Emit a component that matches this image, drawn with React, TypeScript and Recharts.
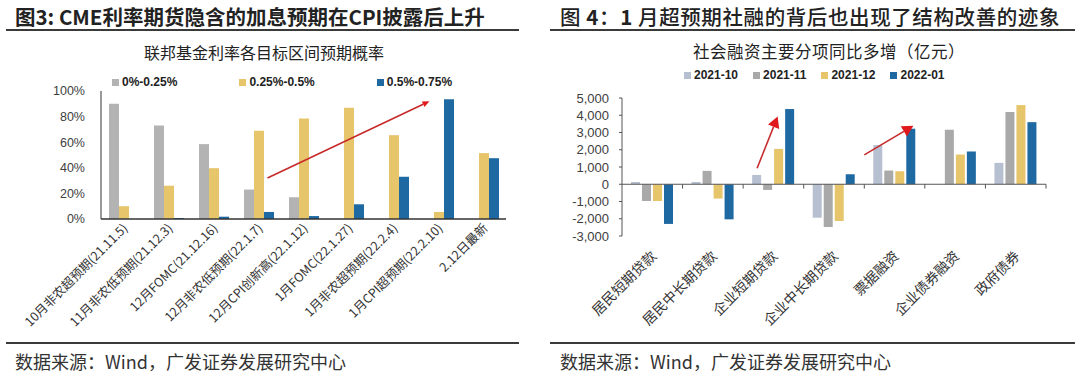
import React from "react";
import {
  BarChart,
  Bar,
  XAxis,
  YAxis,
  ReferenceLine,
} from "recharts";

// 图3 联邦基金利率各目标区间预期概率 (%)
const fedEvents = [
  "10月非农超预期(21.11.5)",
  "11月非农低预期(21.12.3)",
  "12月FOMC(21.12.16)",
  "12月非农低预期(22.1.7)",
  "12月CPI创新高(22.1.12)",
  "1月FOMC(22.1.27)",
  "1月非农超预期(22.2.4)",
  "1月CPI超预期(22.2.10)",
  "2.12日最新",
];
const fedLow = [90, 73, 58.5, 23, 17, 0, 0, 0, 0];
const fedMid = [10, 26, 39.7, 69, 78.5, 87, 65.5, 5.5, 51.5];
const fedHigh = [0, 0.8, 1.8, 5.5, 2.3, 11.5, 33, 93.5, 47.5];
const fedNames = ["0%-0.25%", "0.25%-0.5%", "0.5%-0.75%"];
const fedTicks = [0, 20, 40, 60, 80, 100];
// arrow from 12月非农 to 1月CPI, in (category band units, %)
const fedArrow = [
  { x: 3.7, y: 32 },
  { x: 7.3, y: 92 },
];

// 图4 社会融资主要分项同比多增（亿元）
const tsfItems = [
  "居民短期贷款",
  "居民中长期贷款",
  "企业短期贷款",
  "企业中长期贷款",
  "票据融资",
  "企业债券融资",
  "政府债券",
];
const tsfOct = [130, 130, 540, -1940, 2270, 0, 1240];
const tsfNov = [-970, 775, -330, -2480, 795, 3160, 4190];
const tsfDec = [-970, -830, 2050, -2130, 755, 1725, 4590];
const tsfJan = [-2300, -2035, 4360, 580, 3220, 1900, 3600];
const tsfNames = ["2021-10", "2021-11", "2021-12", "2022-01"];
const tsfTicks = [-3000, -2000, -1000, 0, 1000, 2000, 3000, 4000, 5000];
const tsfArrows = [
  [
    { x: 2.23, y: 930 },
    { x: 2.57, y: 3930 },
  ],
  [
    { x: 4.0, y: 1700 },
    { x: 4.81, y: 3390 },
  ],
];

const fedColors = ["#b3b3b3", "#e7c56b", "#1f69a3"];
const tsfColors = ["#b7c0d1", "#a9a9a9", "#e7c56b", "#1f69a3"];

const fedRows = fedEvents.map((cat, i) => ({
  cat,
  pos: i + 0.5,
  low: fedLow[i],
  mid: fedMid[i],
  high: fedHigh[i],
}));
const fedKeys = ["low", "mid", "high"];

const tsfRows = tsfItems.map((cat, i) => ({
  cat,
  pos: i + 0.5,
  oct: tsfOct[i],
  nov: tsfNov[i],
  dec: tsfDec[i],
  jan: tsfJan[i],
}));
const tsfKeys = ["oct", "nov", "dec", "jan"];

const cjk = '"Noto Sans CJK SC", sans-serif';
const latin = '"Liberation Sans", Arial, sans-serif';

const arrowShape = (head: number, width: number) => (p: any) => {
  const { x1, y1, x2, y2 } = p;
  const a = Math.atan2(y2 - y1, x2 - x1);
  const bx = x2 - head * Math.cos(a);
  const by = y2 - head * Math.sin(a);
  const nx = -Math.sin(a) * width;
  const ny = Math.cos(a) * width;
  return (
    <g>
      <line x1={x1} y1={y1} x2={bx} y2={by} stroke="#c62a2a" strokeWidth={1.6} />
      <polygon
        points={`${x2},${y2} ${bx + nx},${by + ny} ${bx - nx},${by - ny}`}
        fill="#e0191c"
      />
    </g>
  );
};

const SlantTick = (props: any) => {
  const { x, y, payload, fontSize, dx, dy } = props;
  return (
    <g transform={`translate(${x + dx},${y + dy})`}>
      <text
        textAnchor="end"
        transform="rotate(-45)"
        fontSize={fontSize}
        fontFamily={cjk}
        fill="#333"
      >
        {payload.value}
      </text>
    </g>
  );
};

const Legend = ({ names, colors, left, top, gaps }: any) => (
  <div style={{ position: "absolute", left, top, display: "flex", alignItems: "center" }}>
    {names.map((n: string, i: number) => (
      <div
        key={n}
        style={{
          display: "flex",
          alignItems: "center",
          marginRight: gaps,
          fontFamily: latin,
          fontWeight: 700,
          fontSize: 12,
          color: "#222",
        }}
      >
        <span
          style={{ width: 7, height: 7, background: colors[i], marginRight: 3, display: "inline-block" }}
        />
        {n}
      </div>
    ))}
  </div>
);

const rule = (left: number, top: number, width: number) => (
  <div style={{ position: "absolute", left, top, width, height: 1.5, background: "#3a3a3a" }} />
);

const text = (content: React.ReactNode, style: React.CSSProperties) => (
  <div style={{ position: "absolute", whiteSpace: "nowrap", ...style }}>{content}</div>
);

export default function App() {
  return (
    <div
      style={{
        position: "absolute",
        left: 0,
        top: 0,
        width: 1080,
        height: 376,
        background: "#fff",
        fontFamily: cjk,
        overflow: "hidden",
      }}
    >
      {text("图3: CME利率期货隐含的加息预期在CPI披露后上升", {
        left: 15,
        top: 1,
        fontSize: 20.5,
        fontWeight: 700,
        color: "#222",
      })}
      {text(
        <>
          图 <b>4</b>：<b>1</b> 月超预期社融的背后也出现了结构改善的迹象
        </>,
        { left: 560, top: 1, fontSize: 20.5, fontWeight: 500, letterSpacing: 0.6, color: "#222" }
      )}
      {rule(6, 29, 513)}
      {rule(550, 29, 525)}

      {text("联邦基金利率各目标区间预期概率", {
        left: 144,
        top: 40,
        fontSize: 16,
        color: "#222",
      })}
      {text("社会融资主要分项同比多增（亿元）", {
        left: 693,
        top: 39,
        fontSize: 16.5,
        letterSpacing: 0.5,
        color: "#222",
      })}

      <Legend names={fedNames} colors={fedColors} left={112} top={75} gaps={62} />
      <Legend names={tsfNames} colors={tsfColors} left={684} top={68} gaps={15} />

      <div style={{ position: "absolute", left: 0, top: 60 }}>
        <BarChart
          width={530}
          height={290}
          data={fedRows}
          margin={{ top: 31, right: 24, left: 41, bottom: 5 }}
          barGap={0}
          barSize={10}
        >
          <XAxis
            xAxisId="c"
            dataKey="cat"
            interval={0}
            height={126}
            axisLine={{ stroke: "#333", strokeWidth: 1.5 }}
            tickLine={false}
            tick={<SlantTick fontSize={12.5} dx={5} dy={2} />}
          />
          <XAxis
            xAxisId="n"
            dataKey="pos"
            type="number"
            domain={[0, fedEvents.length]}
            allowDataOverflow
            hide
          />
          <YAxis
            domain={[0, 100]}
            ticks={fedTicks}
            width={60}
            tickFormatter={(v) => `${v}%`}
            axisLine={{ stroke: "#333" }}
            tickLine={false}
            tickMargin={10}
            tick={{ fontSize: 12.5, fill: "#404040", fontFamily: latin }}
          />
          {fedKeys.map((k, i) => (
            <Bar
              key={k}
              xAxisId="c"
              dataKey={k}
              name={fedNames[i]}
              fill={fedColors[i]}
              isAnimationActive={false}
            />
          ))}
          <ReferenceLine
            xAxisId="n"
            segment={fedArrow}
            shape={arrowShape(7, 3)}
          />
        </BarChart>
      </div>

      <div style={{ position: "absolute", left: 540, top: 60 }}>
        <BarChart
          width={530}
          height={290}
          data={tsfRows}
          margin={{ top: 38, right: 24, left: 22, bottom: 4 }}
          barGap={2}
          barSize={9}
        >
          <XAxis
            xAxisId="c"
            dataKey="cat"
            interval={0}
            height={110}
            axisLine={false}
            tickLine={false}
            tick={<SlantTick fontSize={14} dx={5} dy={13} />}
          />
          <XAxis
            xAxisId="n"
            dataKey="pos"
            type="number"
            domain={[0, tsfItems.length]}
            allowDataOverflow
            hide
          />
          <YAxis
            domain={[-3000, 5000]}
            ticks={tsfTicks}
            width={60}
            interval={0}
            tickFormatter={(v) => v.toLocaleString("en-US")}
            axisLine={{ stroke: "#555" }}
            tickLine={{ stroke: "#555" }}
            tickSize={3}
            tickMargin={10}
            tick={{ fontSize: 13, fill: "#404040", fontFamily: latin }}
          />
          {tsfKeys.map((k, i) => (
            <Bar
              key={k}
              xAxisId="c"
              dataKey={k}
              name={tsfNames[i]}
              fill={tsfColors[i]}
              isAnimationActive={false}
            />
          ))}
          <ReferenceLine xAxisId="c" y={0} stroke="#555" />
          {tsfItems.map((_, i) => (
            <ReferenceLine
              key={"t" + i}
              xAxisId="n"
              segment={[
                { x: i + 1, y: 0 },
                { x: i + 1, y: -250 },
              ]}
              stroke="#555"
              strokeWidth={1}
            />
          ))}
          {tsfArrows.map((seg, i) => (
            <ReferenceLine key={"a" + i} xAxisId="n" segment={seg} shape={arrowShape(11, 6)} />
          ))}
        </BarChart>
      </div>

      {rule(6, 342, 513)}
      {rule(550, 342, 525)}
      {text("数据来源：Wind，广发证券发展研究中心", {
        left: 15,
        top: 348,
        fontSize: 18,
        color: "#333",
      })}
      {text("数据来源：Wind，广发证券发展研究中心", {
        left: 560,
        top: 348,
        fontSize: 18,
        color: "#333",
      })}
    </div>
  );
}
